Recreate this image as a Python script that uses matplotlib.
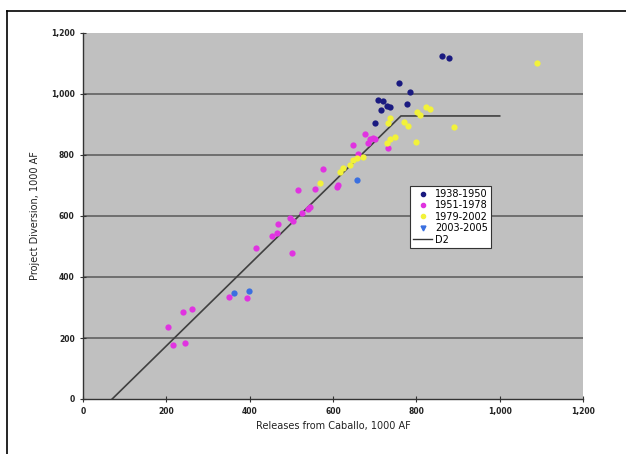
import matplotlib
matplotlib.use("Agg")
import matplotlib.pyplot as plt
from matplotlib.ticker import FuncFormatter, MultipleLocator
from matplotlib.lines import Line2D

# Data (1000 AF)
s1938_x = [701, 708, 715, 720, 730, 737, 758, 777, 785, 862, 878]
s1938_y = [905, 981, 948, 977, 961, 958, 1036, 968, 1007, 1125, 1118]

s1951_x = [204, 216, 245, 240, 262, 350, 394, 415, 454, 466, 468, 502, 497, 504,
           526, 540, 545, 516, 557, 576, 612, 610, 648, 677, 684, 701, 732, 660, 689, 696]
s1951_y = [236, 177, 184, 285, 295, 335, 331, 495, 535, 544, 574, 480, 593, 584,
           610, 623, 630, 686, 689, 754, 702, 695, 833, 870, 840, 853, 823, 804, 853, 856]

s1979_x = [569, 617, 624, 641, 648, 658, 672, 730, 732, 737, 737, 749, 770, 780,
           799, 802, 809, 823, 833, 890, 1090]
s1979_y = [708, 745, 758, 768, 784, 790, 794, 840, 905, 853, 922, 859, 909, 895,
           843, 941, 931, 958, 951, 892, 1102]

s2003_x = [362, 398, 658]
s2003_y = [348, 354, 718]

d2_x = [70, 763, 1000]
d2_y = [0, 928, 928]

labels = ["1938-1950", "1951-1978", "1979-2002", "2003-2005", "D2"]

fig = plt.figure(figsize=(6.26, 4.54), dpi=100)
ax = fig.add_axes([83/626, 1-399/454, 500/626, 366/454])
ax.set_facecolor("#C0C0C0")

for yv in [200, 400, 600, 800, 1000]:
    ax.axhline(yv, color="#686868", lw=1.3, zorder=1)

ms = 4.5
ax.plot(s1938_x, s1938_y, 'o', color="#1A1A80", ms=ms, mec='none', zorder=3)
ax.plot(s1951_x, s1951_y, 'o', color="#E033E0", ms=ms, mec='none', zorder=3)
ax.plot(s1979_x, s1979_y, 'o', color="#F2F23A", ms=ms, mec='none', zorder=3)
ax.plot(s2003_x, s2003_y, 'o', color="#3A6FE0", ms=ms, mec='none', zorder=3)
ax.plot(d2_x, d2_y, '-', color="#404040", lw=1.2, zorder=2)

ax.set_xlim(0, 1200)
ax.set_ylim(0, 1200)
ax.xaxis.set_major_locator(MultipleLocator(200))
ax.yaxis.set_major_locator(MultipleLocator(200))
fmt = FuncFormatter(lambda v, p: f"{int(v):,}")
ax.xaxis.set_major_formatter(fmt)
ax.yaxis.set_major_formatter(fmt)
ax.tick_params(direction='inout', length=5, width=0.8, colors="#333333",
               labelsize=5.5, labelcolor="#222222")
for t in ax.get_xticklabels() + ax.get_yticklabels():
    t.set_fontweight('bold')
for s in ['top', 'right']:
    ax.spines[s].set_visible(False)
for s in ['left', 'bottom']:
    ax.spines[s].set_color("#333333")
    ax.spines[s].set_linewidth(1.0)

ax.set_xlabel("Releases from Caballo, 1000 AF", fontsize=7, labelpad=3, color="#222222")
ax.set_ylabel("Project Diversion, 1000 AF", fontsize=7, labelpad=8, color="#222222")

handles = [
    Line2D([], [], marker='o', ls='none', color="#1A1A80", ms=3),
    Line2D([], [], marker='o', ls='none', color="#E033E0", ms=3),
    Line2D([], [], marker='o', ls='none', color="#F2F23A", ms=3),
    Line2D([], [], marker='v', ls='none', color="#3A6FE0", ms=3.5),
    Line2D([], [], color="#333333", lw=1),
]
leg = ax.legend(handles, labels, loc='upper left',
                bbox_to_anchor=((410-83)/500, (399-186)/366),
                fontsize=7, frameon=True, fancybox=False, borderpad=0.3,
                labelspacing=0.15, handlelength=2.0, handletextpad=0.3,
                borderaxespad=0)
leg.get_frame().set_edgecolor("#333333")
leg.get_frame().set_linewidth(0.8)
leg.get_frame().set_facecolor("white")
leg.get_frame().set_alpha(1)

# figure border (left and top visible in the reference crop)
fig.add_artist(Line2D([7/626, 7/626], [0, 1-11/454], color='black', lw=1.2, transform=fig.transFigure))
fig.add_artist(Line2D([7/626, 1.0], [1-11/454, 1-11/454], color='black', lw=1.2, transform=fig.transFigure))

fig.savefig("out.png", dpi=100)
